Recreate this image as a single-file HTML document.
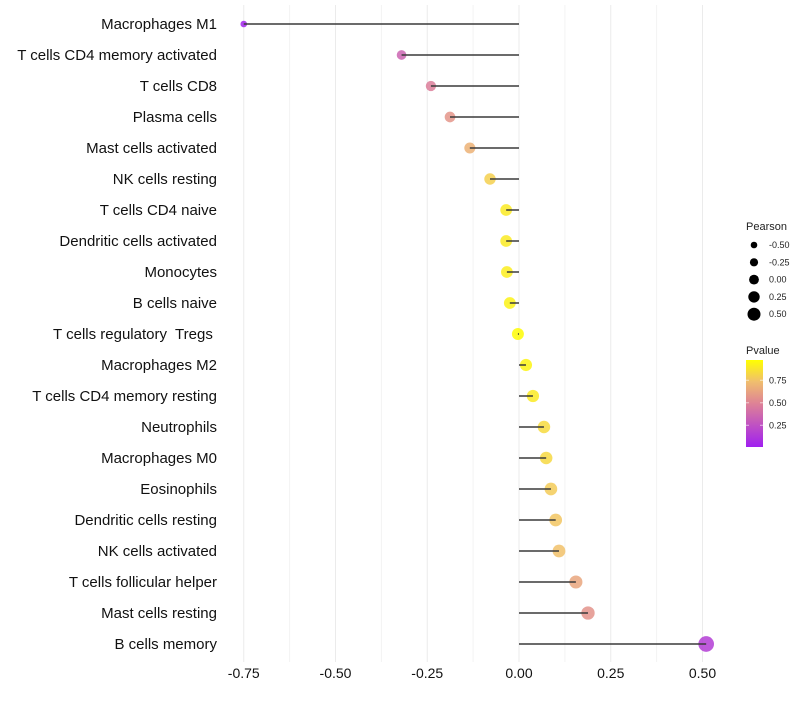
<!DOCTYPE html>
<html><head><meta charset="utf-8"><style>
body{margin:0;background:#fff;font-family:"Liberation Sans",sans-serif}
text{white-space:pre}
</style></head><body>
<svg id="c" width="800" height="700" xmlns="http://www.w3.org/2000/svg"></svg>
<script>
const categories=["Macrophages M1","T cells CD4 memory activated","T cells CD8","Plasma cells","Mast cells activated","NK cells resting","T cells CD4 naive","Dendritic cells activated","Monocytes","B cells naive","T cells regulatory  Tregs ","Macrophages M2","T cells CD4 memory resting","Neutrophils","Macrophages M0","Eosinophils","Dendritic cells resting","NK cells activated","T cells follicular helper","Mast cells resting","B cells memory"];
const pearson=[-0.75,-0.32,-0.24,-0.188,-0.134,-0.079,-0.035,-0.035,-0.033,-0.025,-0.003,0.019,0.038,0.068,0.074,0.087,0.1,0.109,0.155,0.188,0.51];
const pvalue=[0.02,0.35,0.48,0.58,0.7,0.82,0.92,0.92,0.93,0.95,0.99,0.96,0.92,0.86,0.85,0.8,0.78,0.76,0.65,0.57,0.15];
const xTicks=[-0.75,-0.5,-0.25,0,0.25,0.5];
const xTickLabels=["-0.75","-0.50","-0.25","0.00","0.25","0.50"];
const sizeLegend=[-0.5,-0.25,0,0.25,0.5];
const sizeLabels=["-0.50","-0.25","0.00","0.25","0.50"];
const pTicks=[0.25,0.5,0.75];
const pLabels=["0.25","0.50","0.75"];
const svg=document.getElementById('c');const NS="http://www.w3.org/2000/svg";
function mk(t,a,p){const e=document.createElementNS(NS,t);for(const k in a)e.setAttribute(k,a[k]);(p||svg).appendChild(e);return e;}
const x=v=>519+v*367;
const y=i=>24+i*31;
const r=v=>Math.max(2,6+3.6*v);
const stops=[[0,[160,32,240]],[0.5,[222,130,150]],[0.75,[240,190,110]],[1,[255,255,0]]];
function col(p){for(let i=1;i<stops.length;i++){if(p<=stops[i][0]){const a=stops[i-1],b=stops[i];const t=(p-a[0])/(b[0]-a[0]);return 'rgb('+a[1].map((c,j)=>Math.round(c+(b[1][j]-c)*t)).join(',')+')';}}return 'rgb(255,255,0)';}
for(let v=-0.75;v<=0.5001;v+=0.125){const g=mk('line',{x1:x(v),x2:x(v),y1:5,y2:662,stroke:Math.abs((v/0.25)-Math.round(v/0.25))<0.01?'#ebebeb':'#f3f3f3','stroke-width':1});
}
xTicks.forEach((v,i)=>{const t=mk('text',{x:x(v),y:678,'text-anchor':'middle','font-size':14,fill:'#111'});t.textContent=xTickLabels[i];
});
categories.forEach((c,i)=>{
const t=mk('text',{x:217,y:y(i)+5,'text-anchor':'end','font-size':15,fill:'#111'});t.textContent=c;

const d=mk('circle',{cx:x(pearson[i]),cy:y(i),r:r(pearson[i]),fill:col(pvalue[i]),'fill-opacity':0.85});

const l=mk('line',{x1:x(pearson[i]),x2:x(0),y1:y(i),y2:y(i),stroke:'#3a3a3a','stroke-width':1.5});

});
let t=mk('text',{x:746,y:230,'font-size':11,fill:'#222'});t.textContent='Pearson';

sizeLegend.forEach((v,i)=>{const cy=245+i*17.3;
const c=mk('circle',{cx:754,cy:cy,r:3.3+i*0.8,fill:'#000'});
const s=mk('text',{x:769,y:cy+3,'font-size':9,fill:'#222'});s.textContent=sizeLabels[i];});
t=mk('text',{x:746,y:354,'font-size':11,fill:'#222'});t.textContent='Pvalue';

const defs=mk('defs',{});const lg=mk('linearGradient',{id:'g',x1:0,y1:1,x2:0,y2:0},defs);
stops.forEach(s=>mk('stop',{offset:s[0],'stop-color':col(s[0])},lg));
const bar=mk('rect',{x:746,y:360,width:17,height:87,fill:'url(#g)'});
const py=p=>446-(p-0.02)/(0.975-0.02)*86;
pTicks.forEach((p,i)=>{mk('line',{x1:746,x2:749,y1:py(p),y2:py(p),stroke:'#fff','stroke-opacity':0.6});mk('line',{x1:760,x2:763,y1:py(p),y2:py(p),stroke:'#fff','stroke-opacity':0.6});
const s=mk('text',{x:769,y:py(p)+3,'font-size':9,fill:'#222'});s.textContent=pLabels[i];});
</script>
</body></html>
